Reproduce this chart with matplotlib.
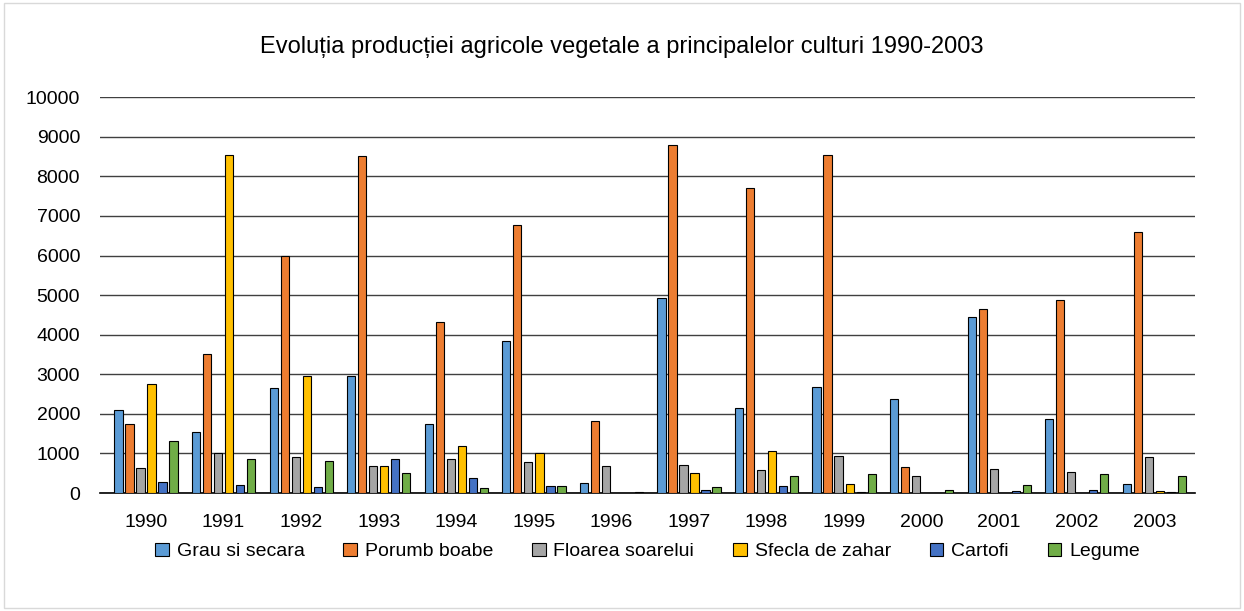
import matplotlib.pyplot as plt
import numpy as np

years = ['1990', '1991', '1992', '1993', '1994', '1995', '1996',
         '1997', '1998', '1999', '2000', '2001', '2002', '2003']

grau = [2100, 1550, 2650, 2950, 1750, 3830, 260, 4930, 2140, 2680, 2370, 4440, 1880, 230]
porumb = [1740, 3520, 6000, 8520, 4330, 6770, 1820, 8800, 7700, 8540, 660, 4650, 4870, 6600]
floarea = [630, 1000, 900, 680, 860, 780, 680, 720, 580, 940, 420, 600, 530, 900]
sfecla = [2750, 8530, 2950, 690, 1200, 1020, 0, 500, 1070, 230, 0, 0, 0, 40]
cartofi = [280, 200, 160, 870, 380, 180, 0, 80, 180, 30, 10, 50, 80, 20]
legume = [1320, 850, 800, 500, 140, 190, 20, 160, 440, 480, 70, 200, 490, 440]

series = [('Grau si secara', grau, '#5B9BD5'),
          ('Porumb boabe', porumb, '#ED7D31'),
          ('Floarea soarelui', floarea, '#A5A5A5'),
          ('Sfecla de zahar', sfecla, '#FFC000'),
          ('Cartofi', cartofi, '#4472C4'),
          ('Legume', legume, '#70AD47')]

plt.rcParams['font.family'] = ['Liberation Sans', 'DejaVu Sans']

fig = plt.figure(figsize=(12.44, 6.11), dpi=100)
ax = fig.add_axes([0.080, 0.193, 0.881, 0.648])

x = np.arange(len(years))
slot = 0.142
for i, (name, vals, col) in enumerate(series):
    # zero values get no bar at all, like in the original
    h = np.array(vals, dtype=float)
    h[h == 0] = np.nan
    ax.bar(x + (i - 2.5) * slot, h, width=slot * 0.75, color=col,
           edgecolor='black', linewidth=0.8, label=name, zorder=3)

ax.set_ylim(0, 10000)
ax.set_yticks(range(0, 10001, 1000))
ax.set_xlim(-0.6, 13.53)
ax.set_xticks(x)
ax.set_xticklabels(years)
ax.tick_params(length=0, labelsize=14, colors='black')
ax.tick_params(axis='x', pad=15)
ax.tick_params(axis='y', pad=14)
ax.grid(axis='y', color='#404040', linewidth=1, zorder=0)
for s in ['top', 'right', 'left']:
    ax.spines[s].set_visible(False)
ax.spines['bottom'].set_color('black')
ax.spines['bottom'].set_linewidth(1.2)

fig.text(0.5, 0.923, 'Evoluția producției agricole vegetale a principalelor culturi 1990-2003',
         ha='center', va='center', fontsize=17)

ax.legend(loc='center', bbox_to_anchor=(0.5, -0.148), ncol=6, frameon=False,
          fontsize=14, handlelength=0.7, handleheight=0.7, columnspacing=2.0,
          handletextpad=0.4)

fig.patches.append(plt.Rectangle((0.003, 0.005), 0.994, 0.99, transform=fig.transFigure,
                                 fill=False, edgecolor='#D9D9D9', linewidth=1))

fig.savefig('out.png', dpi=100)
